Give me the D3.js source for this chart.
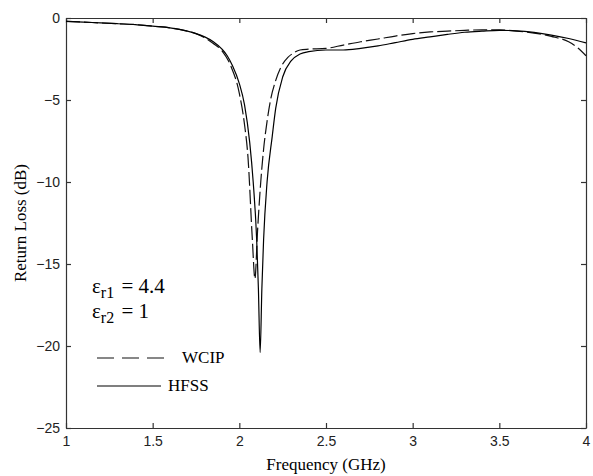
<!DOCTYPE html>
<html>
<head>
<meta charset="utf-8">
<script src="https://cdn.jsdelivr.net/npm/d3@7"></script>
<style>
  body { margin: 0; background: #fff; }
  .tick text { font-family: "Liberation Sans", Arial, sans-serif; font-size: 14px; fill: #222; }
  .lbl { font-family: "Liberation Serif", "Times New Roman", serif; fill: #000; }
</style>
</head>
<body>
<div id="chart"></div>
<script>
const width = 593;
const height = 476;
const margin = {top: 18, right: 7, bottom: 48, left: 66};

// frequency (GHz) / return loss (dB)
const hfssFreq = [1.0, 1.1, 1.2, 1.3, 1.4, 1.5, 1.6, 1.7, 1.75, 1.8, 1.85, 1.9, 1.93, 1.96, 2.0, 2.03, 2.06, 2.08, 2.1, 2.11, 2.12,
  2.13, 2.14, 2.16, 2.19, 2.21, 2.25, 2.3, 2.35, 2.4, 2.5, 2.6, 2.7, 2.8, 2.9, 3.0, 3.1, 3.2, 3.3, 3.4, 3.5, 3.6, 3.7, 3.8, 3.9, 4.0];
const hfssRL = [-0.2, -0.25, -0.3, -0.35, -0.4, -0.5, -0.6, -0.8, -0.95, -1.15, -1.45, -1.9, -2.3, -2.9, -4.0, -5.3, -7.6, -10, -13.5, -16.5, -20.4,
  -16.5, -13.5, -10, -7.2, -5.5, -3.6, -2.6, -2.2, -2.05, -1.95, -1.95, -1.85, -1.7, -1.5, -1.3, -1.15, -1.0, -0.87, -0.8, -0.75, -0.78, -0.88, -1.04, -1.25, -1.52];

const wcipFreq = [1.0, 1.1, 1.2, 1.3, 1.4, 1.5, 1.6, 1.7, 1.75, 1.8, 1.85, 1.9, 1.95, 2.0, 2.03, 2.05, 2.075, 2.09,
  2.105, 2.12, 2.14, 2.16, 2.18, 2.21, 2.24, 2.28, 2.31, 2.35, 2.4, 2.5, 2.6, 2.7, 2.8, 2.9, 3.0, 3.1, 3.2, 3.3, 3.4, 3.5, 3.6, 3.7, 3.8, 3.9, 3.95, 4.0];
const wcipRL = [-0.2, -0.25, -0.3, -0.35, -0.4, -0.5, -0.6, -0.8, -0.95, -1.2, -1.55, -2.0, -2.9, -4.6, -6.5, -8.5, -13.5, -15.9,
  -13, -10.5, -8, -6.3, -5, -3.8, -3.0, -2.4, -2.15, -1.95, -1.9, -1.85, -1.65, -1.45, -1.28, -1.1, -0.95, -0.85, -0.8, -0.75, -0.72, -0.73, -0.8, -0.92, -1.12, -1.45, -1.8, -2.3];

const xTicks = [1, 1.5, 2, 2.5, 3, 3.5, 4];
const yTicks = [0, -5, -10, -15, -20, -25];

const svg = d3.select("#chart")
  .append("svg")
    .attr("width", width)
    .attr("height", height);

const x = d3.scaleLinear().domain([1, 4]).range([margin.left, width - margin.right]);
const y = d3.scaleLinear().domain([-25, 0]).range([height - margin.bottom, margin.top]);

/* ---------------- axes (matlab style box, ticks inside) ---------------- */
const axisColor = "#333";

svg.append("g")
  .attr("transform", `translate(0,${height - margin.bottom})`)
  .call(d3.axisBottom(x).tickValues(xTicks).tickFormat(d3.format("")).tickSizeInner(-5).tickSizeOuter(0).tickPadding(8));

svg.append("g")
  .attr("transform", `translate(${margin.left},0)`)
  .call(d3.axisLeft(y).tickValues(yTicks).tickSizeInner(-5).tickSizeOuter(0).tickPadding(6));

svg.append("g")
  .attr("transform", `translate(0,${margin.top})`)
  .call(d3.axisTop(x).tickValues(xTicks).tickFormat("").tickSizeInner(-5).tickSizeOuter(0));

svg.append("g")
  .attr("transform", `translate(${width - margin.right},0)`)
  .call(d3.axisRight(y).tickValues(yTicks).tickFormat("").tickSizeInner(-5).tickSizeOuter(0));

svg.selectAll(".domain, .tick line").attr("stroke", axisColor).attr("stroke-width", 1.2);

/* ---------------- curves ---------------- */
const line = d3.line()
  .x(d => x(d[0]))
  .y(d => y(d[1]))
  .curve(d3.curveMonotoneX);

svg.append("path")
  .datum(d3.zip(wcipFreq, wcipRL))
  .attr("d", line)
  .attr("fill", "none")
  .attr("stroke", "#111")
  .attr("stroke-width", 1.2)
  .attr("stroke-dasharray", "14,4");

svg.append("path")
  .datum(d3.zip(hfssFreq, hfssRL))
  .attr("d", line)
  .attr("fill", "none")
  .attr("stroke", "#000")
  .attr("stroke-width", 1.2);

/* ---------------- labels ---------------- */
svg.append("text")
  .attr("class", "lbl")
  .attr("x", (margin.left + width - margin.right) / 2)
  .attr("y", 470)
  .attr("text-anchor", "middle")
  .style("font-size", "17px")
  .text("Frequency (GHz)");

svg.append("text")
  .attr("class", "lbl")
  .attr("transform", `translate(26,${(margin.top + height - margin.bottom) / 2}) rotate(-90)`)
  .attr("text-anchor", "middle")
  .style("font-size", "17px")
  .text("Return Loss (dB)");

// permittivity annotation
const eps = [["r1", "4.4", 293], ["r2", "1", 318]];
eps.forEach(function(e) {
  const t = svg.append("text")
    .attr("class", "lbl")
    .attr("x", 92)
    .attr("y", e[2])
    .style("font-size", "21px");
  t.append("tspan").text("ε");
  t.append("tspan").attr("dy", 5).style("font-size", "16px").text(e[0]);
  t.append("tspan").attr("dy", -5).attr("dx", 2).text(" = " + e[1]);
});

// legend
svg.append("line")
  .attr("x1", 97).attr("x2", 166)
  .attr("y1", 358).attr("y2", 358)
  .attr("stroke", "#111").attr("stroke-width", 1.2)
  .attr("stroke-dasharray", "17,8");
svg.append("text")
  .attr("class", "lbl")
  .attr("x", 182).attr("y", 363)
  .style("font-size", "17px")
  .text("WCIP");

svg.append("line")
  .attr("x1", 97).attr("x2", 161)
  .attr("y1", 386).attr("y2", 386)
  .attr("stroke", "#000").attr("stroke-width", 1.2);
svg.append("text")
  .attr("class", "lbl")
  .attr("x", 168).attr("y", 391)
  .style("font-size", "17px")
  .text("HFSS");
</script>
</body>
</html>
